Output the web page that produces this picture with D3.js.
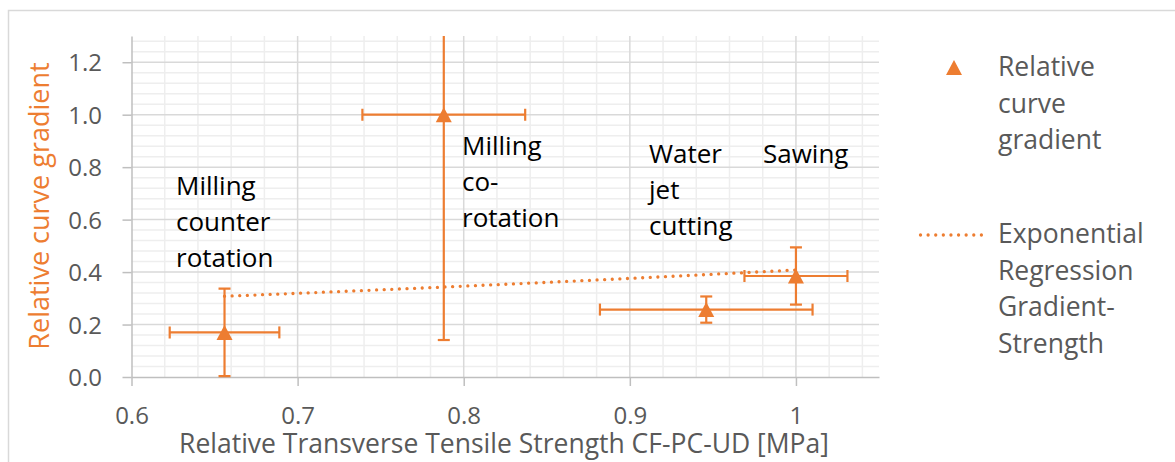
<!DOCTYPE html>
<html><head><meta charset="utf-8">
<script src="https://cdn.jsdelivr.net/npm/d3@7/dist/d3.min.js"></script>
<style>
body{margin:0;background:#fff;}
svg{display:block;font-family:"Open Sans",sans-serif;}
</style>
</head><body>
<svg id="chart" width="1175" height="462"></svg>
<script>
// ---------------- data ----------------
const methods = ["Milling counter rotation", "Milling co-rotation", "Water jet cutting", "Sawing"];
const strength = [0.656, 0.788, 0.946, 1.0];          // relative transverse tensile strength
const strengthErr = [0.033, 0.049, 0.064, 0.031];
const gradient = [0.170, 1.0, 0.257, 0.385];          // relative curve gradient
const gradientErr = [0.167, 0.859, 0.050, 0.109];
const xTickValues = [0.6, 0.7, 0.8, 0.9, 1.0];
const xTickLabels = ["0.6", "0.7", "0.8", "0.9", "1"];
const yTickValues = [0, 0.2, 0.4, 0.6, 0.8, 1.0, 1.2];
const yTickLabels = ["0.0", "0.2", "0.4", "0.6", "0.8", "1.0", "1.2"];
const annotationLines = [["Milling", "counter", "rotation"], ["Milling", "co-", "rotation"], ["Water", "jet", "cutting"], ["Sawing"]];
const legendLabels = [["Relative", "curve", "gradient"], ["Exponential", "Regression", "Gradient-", "Strength"]];
const xTitle = "Relative Transverse Tensile Strength CF-PC-UD [MPa]";
const yTitle = "Relative curve gradient";

// ---------------- layout ----------------
const L = {left: 131.5, right: 879, top: 36, bottom: 377};
const annotPos = [[176, 195], [462, 155], [649, 163], [763, 163]];
const lineGap = 36;
const ORANGE = "#ED7D31";

const svg = d3.select("#chart");
svg.append("rect").attr("x", 8.5).attr("y", 10.5).attr("width", 1300).attr("height", 600)
  .attr("fill", "#fff").attr("stroke", "#d9d9d9").attr("stroke-width", 1.5);

const x = d3.scaleLinear().domain([0.6, 1.05]).range([L.left, L.right]);
const y = d3.scaleLinear().domain([0, 1.3]).range([L.bottom, L.top]);

// grid
const xMinor = d3.range(1, 23).map(i => +(0.6 + i * 0.02).toFixed(2)).filter(v => Math.abs(v * 10 - Math.round(v * 10)) > 1e-6);
const yMinor = d3.range(1, 33).map(i => +(i * 0.04).toFixed(2)).filter(v => Math.abs(v * 5 - Math.round(v * 5)) > 1e-6);
const grid = svg.append("g");
grid.selectAll(".vx").data(xMinor).join("line").attr("x1", d => x(d)).attr("x2", d => x(d))
  .attr("y1", L.top).attr("y2", L.bottom).attr("stroke", "#eeeeee").attr("stroke-width", 1.5);
grid.selectAll(".hy").data(yMinor).join("line").attr("y1", d => y(d)).attr("y2", d => y(d))
  .attr("x1", L.left).attr("x2", L.right).attr("stroke", "#eeeeee").attr("stroke-width", 1.5);
grid.selectAll(".Vx").data(xTickValues.slice(1)).join("line").attr("x1", d => x(d)).attr("x2", d => x(d))
  .attr("y1", L.top).attr("y2", L.bottom).attr("stroke", "#d9d9d9").attr("stroke-width", 1.5);
grid.selectAll(".Hy").data(yTickValues.slice(1)).join("line").attr("y1", d => y(d)).attr("y2", d => y(d))
  .attr("x1", L.left).attr("x2", L.right).attr("stroke", "#d9d9d9").attr("stroke-width", 1.5);

// axes
const xAxis = d3.axisBottom(x).tickValues(xTickValues).tickFormat((d, i) => xTickLabels[i]).tickSize(9).tickSizeOuter(0);
const yAxis = d3.axisLeft(y).tickValues(yTickValues).tickFormat((d, i) => yTickLabels[i]).tickSize(9).tickSizeOuter(0);
const gx = svg.append("g").attr("transform", `translate(0,${L.bottom})`).call(xAxis);
const gy = svg.append("g").attr("transform", `translate(${L.left},0)`).call(yAxis);
[gx, gy].forEach(g => {
  g.select(".domain").attr("stroke", "#bfbfbf").attr("stroke-width", 1.5);
  g.selectAll(".tick line").attr("stroke", "#bfbfbf").attr("stroke-width", 1.5);
  g.selectAll(".tick text").attr("fill", "#595959").attr("font-size", 24).attr("font-family", "Open Sans, sans-serif");
});
gx.selectAll(".tick text").attr("y", 47).attr("dy", 0);
gy.selectAll(".tick text").attr("x", -(L.left - 102)).attr("dy", "0.36em");

// axis titles
svg.append("text").attr("x", 504).attr("y", 453).attr("text-anchor", "middle")
  .attr("font-size", 26.5).attr("fill", "#595959").text(xTitle);
svg.append("text").attr("transform", "translate(49,206) rotate(-90)").attr("text-anchor", "middle")
  .attr("font-size", 27).attr("fill", ORANGE).text(yTitle);

// clip
svg.append("clipPath").attr("id", "plotclip").append("rect")
  .attr("x", L.left - 20).attr("y", L.top).attr("width", L.right - L.left + 40).attr("height", L.bottom - L.top + 20);
const plot = svg.append("g").attr("clip-path", "url(#plotclip)");

// exponential regression y = a*exp(b*x) fitted on the data
const lnY = gradient.map(Math.log);
const mx = d3.mean(strength), my = d3.mean(lnY);
const b = d3.sum(strength, (v, i) => (v - mx) * (lnY[i] - my)) / d3.sum(strength, v => (v - mx) ** 2);
const a = Math.exp(my - b * mx);
const xs = d3.range(0, 51).map(i => d3.min(strength) + (d3.max(strength) - d3.min(strength)) * i / 50);
plot.append("path").datum(xs).attr("fill", "none").attr("stroke", ORANGE).attr("stroke-width", 3.3)
  .attr("stroke-linecap", "round").attr("stroke-dasharray", "0.01 7.6")
  .attr("d", d3.line().x(d => x(d)).y(d => y(a * Math.exp(b * d))));

// error bars
const cap = 6;
const pts = methods.map((m, i) => ({m, sx: strength[i], ex: strengthErr[i], gy: gradient[i], ey: gradientErr[i]}));
const eb = plot.append("g").attr("stroke", ORANGE).attr("stroke-width", 2.2).attr("fill", "none");
pts.forEach(p => {
  eb.append("line").attr("x1", x(p.sx - p.ex)).attr("x2", x(p.sx + p.ex)).attr("y1", y(p.gy)).attr("y2", y(p.gy));
  eb.append("line").attr("x1", x(p.sx - p.ex)).attr("x2", x(p.sx - p.ex)).attr("y1", y(p.gy) - cap).attr("y2", y(p.gy) + cap);
  eb.append("line").attr("x1", x(p.sx + p.ex)).attr("x2", x(p.sx + p.ex)).attr("y1", y(p.gy) - cap).attr("y2", y(p.gy) + cap);
  eb.append("line").attr("x1", x(p.sx)).attr("x2", x(p.sx)).attr("y1", y(p.gy - p.ey)).attr("y2", y(p.gy + p.ey));
  eb.append("line").attr("x1", x(p.sx) - cap).attr("x2", x(p.sx) + cap).attr("y1", y(p.gy - p.ey)).attr("y2", y(p.gy - p.ey));
  eb.append("line").attr("x1", x(p.sx) - cap).attr("x2", x(p.sx) + cap).attr("y1", y(p.gy + p.ey)).attr("y2", y(p.gy + p.ey));
});

// triangle markers (bbox centred)
const tri = {draw(ctx, size) { const w = 8, h = 7.5; ctx.moveTo(0, -h); ctx.lineTo(w, h); ctx.lineTo(-w, h); ctx.closePath(); }};
const sym = d3.symbol().type(tri);
plot.selectAll(".mk").data(pts).join("path").attr("d", sym)
  .attr("transform", d => `translate(${x(d.sx)},${y(d.gy)})`).attr("fill", ORANGE);

// annotations
annotationLines.forEach((lines, i) => {
  const t = svg.append("text").attr("font-size", 26).attr("fill", "#000");
  lines.forEach((ln, j) => t.append("tspan").attr("x", annotPos[i][0]).attr("y", annotPos[i][1] + j * lineGap).text(ln));
});

// legend
svg.append("path").attr("d", sym).attr("transform", "translate(954,67.5)").attr("fill", ORANGE);
svg.append("line").attr("x1", 920.5).attr("x2", 983).attr("y1", 235).attr("y2", 235)
  .attr("stroke", ORANGE).attr("stroke-width", 3.3).attr("stroke-linecap", "round").attr("stroke-dasharray", "0.01 7.6");
const legY = [76, 243];
legendLabels.forEach((lines, i) => {
  const t = svg.append("text").attr("font-size", 26.5).attr("fill", "#595959");
  lines.forEach((ln, j) => t.append("tspan").attr("x", 998).attr("y", legY[i] + j * 36.7).text(ln));
});
</script>
</body></html>
